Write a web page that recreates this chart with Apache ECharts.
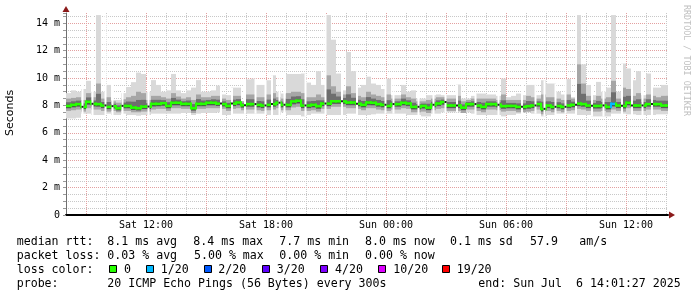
<!DOCTYPE html>
<html><head><meta charset="utf-8">
<script src="https://cdn.jsdelivr.net/npm/echarts@6/dist/echarts.min.js"></script>
<style>html,body{margin:0;padding:0;background:#fff}#c{width:697px;height:297px}</style>
</head><body><div id="c"></div>
<script>
// ---- data (time in hours since Sat 00:00, values in ms) ----
const startHour = 8;        // Sat 08:00
const stepHours = 0.25;     // one column = 15 min
const median = [7.97,8.05,8.1,7.9,8.27,8.12,8.1,8.0,7.9,7.95,
 7.8,7.97,7.97,7.85,7.8,7.92,7.92,8.12,8.12,8.17,
 7.97,8.2,8.2,8.12,8.12,7.8,8.12,8.12,8.2,8.2,
 8.14,8.1,7.97,8.14,8.22,8.02,8.1,8.1,8.05,8.0,
 8.05,8.1,8.2,8.05,8.05,8.3,8.35,8.0,8.0,8.05,
 7.95,8.14,8.14,8.31,8.31,8.3,8.22,8.22,8.12,8.05,
 8.22,8.2,8.1,8.05,7.97,8.1,8.1,8.2,8.15,7.9,
 7.9,7.97,7.85,8.05,8.15,8.25,8.0,8.0,8.0,7.85,
 8.1,8.1,8.0,7.9,8.1,8.1,8.05,7.95,7.97,7.97,
 7.9,7.9,7.95,8.0,8.1,7.75,8.0,7.9,7.97,7.9,
 8.0,8.05,8.14,8.1,8.0,7.97,7.97,8.0,7.9,8.12,
 8.0,7.97,8.2,8.0,8.0,8.0,8.1,8.1,8.1,8.0,8.0];
const hi = [8.9,9.1,9.0,9.2,9.8,9.0,14.6,9.0,9.5,8.4,
 8.4,8.9,9.35,9.7,10.4,10.3,9.0,9.85,9.5,9.0,
 9.1,10.3,9.1,8.9,9.1,9.3,9.85,9.0,9.0,9.1,
 9.45,8.8,8.75,9.3,9.3,8.3,9.9,9.96,9.5,9.5,
 9.84,10.2,9.0,8.87,10.3,10.3,10.3,10.33,9.67,9.5,
 10.5,9.5,14.6,12.8,10.33,9.1,11.9,10.5,9.3,9.5,
 10.1,9.6,9.5,9.2,9.96,8.75,8.75,9.5,9.0,9.1,
 8.5,8.5,8.75,8.75,8.8,8.75,8.75,8.75,9.53,8.5,
 8.5,8.7,8.87,8.87,8.8,8.8,8.7,9.96,8.6,8.7,
 8.87,8.75,9.5,9.5,8.75,9.84,9.6,9.6,9.0,8.8,
 9.92,8.6,14.6,11.0,9.5,8.75,9.72,9.0,9.3,14.6,
 9.0,11.06,10.7,9.84,10.5,8.75,10.33,9.3,9.3,9.5,9.5];
const up = [8.5,8.55,8.6,8.4,8.9,8.6,9.6,8.5,8.6,8.3,
 8.2,8.45,8.6,8.7,9.0,8.9,8.4,8.7,8.7,8.6,
 8.5,8.9,8.65,8.5,8.6,8.4,8.8,8.6,8.6,8.7,
 8.7,8.5,8.4,8.7,8.7,8.3,8.8,8.8,8.6,8.6,
 8.8,8.9,8.6,8.5,8.9,9.0,9.0,8.9,8.6,8.6,
 8.8,8.6,10.2,9.4,9.0,8.8,9.4,8.9,8.7,8.6,
 9.0,8.8,8.7,8.6,8.8,8.5,8.5,8.8,8.6,8.5,
 8.3,8.3,8.4,8.5,8.6,8.6,8.5,8.5,8.7,8.3,
 8.4,8.5,8.5,8.5,8.5,8.5,8.4,8.8,8.4,8.4,
 8.4,8.4,8.7,8.6,8.5,8.8,8.6,8.6,8.5,8.4,
 8.8,8.5,11.0,9.6,8.7,8.4,8.7,8.5,8.6,9.8,
 8.5,9.3,9.2,8.7,8.9,8.5,8.8,8.7,8.6,8.7,8.7];
const dn = [7.6,7.65,7.7,7.55,7.8,7.7,7.7,7.6,7.55,7.6,
 7.5,7.6,7.6,7.5,7.5,7.55,7.55,7.7,7.75,7.75,
 7.6,7.8,7.8,7.75,7.75,7.45,7.75,7.75,7.8,7.8,
 7.8,7.75,7.6,7.75,7.8,7.65,7.7,7.7,7.65,7.6,
 7.65,7.7,7.8,7.65,7.65,7.85,7.9,7.6,7.6,7.65,
 7.55,7.75,7.75,7.9,7.9,7.9,7.8,7.8,7.75,7.65,
 7.8,7.8,7.7,7.65,7.6,7.7,7.7,7.8,7.75,7.5,
 7.5,7.55,7.45,7.65,7.75,7.8,7.6,7.6,7.6,7.45,
 7.7,7.7,7.6,7.5,7.7,7.7,7.65,7.55,7.6,7.6,
 7.5,7.5,7.55,7.6,7.7,7.35,7.6,7.5,7.6,7.5,
 7.6,7.65,7.75,7.7,7.6,7.55,7.55,7.6,7.5,7.7,
 7.6,7.55,7.8,7.6,7.6,7.6,7.7,7.7,7.7,7.6,7.6];
const lo = [7.05,7.05,7.1,7.4,7.4,7.3,7.3,7.3,7.4,7.3,
 7.3,7.4,7.3,7.3,7.25,7.3,7.3,7.4,7.4,7.4,
 7.4,7.4,7.4,7.45,7.45,7.3,7.4,7.45,7.45,7.45,
 7.5,7.3,7.3,7.4,7.4,7.4,7.4,7.4,7.4,7.4,
 7.3,7.3,7.3,7.5,7.3,7.3,7.3,7.2,7.3,7.4,
 7.4,7.4,7.3,7.3,7.3,7.3,7.4,7.4,7.3,7.3,
 7.3,7.35,7.4,7.4,7.4,7.4,7.4,7.4,7.3,7.3,
 7.3,7.2,7.2,7.4,7.4,7.5,7.5,7.5,7.5,7.5,
 7.5,7.4,7.3,7.3,7.3,7.3,7.3,7.2,7.3,7.3,
 7.4,7.5,7.5,7.4,7.4,7.2,7.3,7.3,7.4,7.4,
 7.4,7.4,7.3,7.3,7.3,7.2,7.2,7.2,7.2,7.4,
 7.4,7.4,7.35,7.35,7.3,7.3,7.3,7.3,7.35,7.35,7.35];
const loss = [0,0,0,0,0,0,0,0,0,0, 0,0,0,0,0,0,0,0,0,0, 0,0,0,0,0,0,0,0,0,0,
 0,0,0,0,0,0,0,0,0,0, 0,0,0,0,0,0,0,0,0,0, 0,0,0,0,0,0,0,0,0,0,
 0,0,0,0,0,0,0,0,0,0, 0,0,0,0,0,0,0,0,0,0, 0,0,0,0,0,0,0,0,0,0,
 0,0,0,0,0,0,0,0,0,0, 0,0,0,0,0,0,0,0,0,1, 0,0,0,0,0,0,0,0,0,0,0];
// times (hours) of missing 5-minute samples
const gapTimes = [8.775,9.275,9.925,10.275,10.775,12.075,15.7,16.25,16.9,17.425,17.925,18.25,18.625,18.875,
 19.925,20.925,21.75,22.5,23.925,24.325,25.575,26.325,26.925,27.5,28.425,29.575,30.75,31.425,31.875,
 32.425,32.925,33.45,34.25,34.825,35.75,36.25,36.775,37.25];
const gapHours = 0.1;
const xTickLabels = {12:'Sat 12:00', 18:'Sat 18:00', 24:'Sun 00:00', 30:'Sun 06:00', 36:'Sun 12:00'};
const lossLegend = ['0','1/20','2/20','3/20','4/20','10/20','19/20'];
const lossColors = ['#26ff00','#00b8ff','#0059ff','#5e00ff','#7e00ff','#dd00ff','#ff0000'];
const lossSteps = [0,1,2,3,4,10,19];
const legendLine1 = [['median rtt:',16.7],['8.1 ms avg',107.3],['8.4 ms max',193.3],['7.7 ms min',279.3],['8.0 ms now',365],['0.1 ms sd',450],['57.9',530],['am/s',579.3]];
const legendLine2 = [['packet loss:',16.7],['0.03 % avg',107.3],['5.00 % max',194],['0.00 % min',279.3],['0.00 % now',365]];
const legendLine4 = [['probe:',16.7],['20 ICMP Echo Pings (56 Bytes) every 300s',107.3],['end: Sun Jul  6 14:01:27 2025',478.3]];
const legendX = [[109,124],[146,160.7],[204,218.3],[261.7,276.7],[320,335],[378.3,393.3],[441.7,456.7]];

// ---- chart ----
const MONO = '"DejaVu Sans Mono", monospace';
const chart = echarts.init(document.getElementById('c'), null, {renderer:'canvas'});
function lossColor(n){ let c = lossColors[0]; for (let k=0;k<lossSteps.length;k++) if (n>=lossSteps[k]) c = lossColors[k]; return c; }
const rows = median.map((m,i)=>[startHour+i*stepHours, lo[i], dn[i], m, up[i], hi[i], loss[i]]);
function colIndex(t){ return Math.max(0, Math.min(median.length-1, Math.floor((t-startHour)/stepHours))); }
const gapRows = gapTimes.map(t=>{ const c = colIndex(t); return [t, Math.min(lo[c], lo[Math.max(0,c-1)], lo[Math.min(median.length-1,c+1)]), median[c], Math.max(hi[c], hi[Math.max(0,c-1)], hi[Math.min(median.length-1,c+1)])]; });

function clipR(r, cs){ return echarts.graphic.clipRectByRect(r, {x:cs.x,y:cs.y,width:cs.width,height:cs.height}); }
function band(api, t, w, a, b, color, cs){
  const x0 = api.coord([t, 0])[0], x1 = api.coord([t+w, 0])[0];
  const ya = api.coord([t, a])[1], yb = api.coord([t, b])[1];
  const shape = clipR({x:x0, y:Math.min(ya,yb), width:x1-x0, height:Math.abs(ya-yb)}, cs);
  return shape ? {type:'rect', shape, style:{fill:color}} : null;
}
const smoke = {
  type:'custom', z:5, silent:true, data: rows, encode:{x:0, y:[1,5]},
  renderItem(params, api){
    const t = api.value(0), l=api.value(1), d=api.value(2), m=api.value(3), u=api.value(4), h=api.value(5);
    const cs = params.coordSys;
    const ch = [
      band(api,t,stepHours,l,h,'#d9d9d9',cs),
      band(api,t,stepHours,d,u,'#a6a6a6',cs),
      band(api,t,stepHours,(d+m)/2,(u+m)/2,'#6e6e6e',cs),
      band(api,t,stepHours,m-0.15,m+0.08,'#444444',cs)
    ].filter(Boolean);
    return {type:'group', children: ch};
  }
};
const medLine = {
  type:'custom', z:6, silent:true, data: rows, encode:{x:0, y:3},
  renderItem(params, api){
    const i = params.dataIndex;
    const t = api.value(0), m = api.value(3), n = api.value(6);
    const cs = params.coordSys;
    const x0 = api.coord([t,0])[0], x1 = api.coord([t+stepHours,0])[0];
    const y = api.coord([t,m])[1];
    const col = lossColor(n);
    const ch = [];
    const r = clipR({x:x0, y:y-1.2, width:x1-x0, height:2.6}, cs);
    if (r) ch.push({type:'rect', shape:r, style:{fill:col}});
    if (i>0){
      const yp = api.coord([t, median[i-1]])[1];
      ch.push({type:'rect', shape:{x:x0-1, y:Math.min(y,yp)-1.2, width:2, height:Math.abs(y-yp)+2.6}, style:{fill:col}});
    }
    return {type:'group', children: ch};
  }
};
const gaps = {
  type:'custom', z:7, silent:true, data: gapRows, encode:{x:0, y:[1,3]},
  renderItem(params, api){
    const t = api.value(0), l = api.value(1), m = api.value(2), h = api.value(3);
    const cs = params.coordSys;
    const x0 = api.coord([t,0])[0], x1 = api.coord([t+gapHours,0])[0];
    const yh = api.coord([t,h])[1], yl = api.coord([t,l])[1], ym = api.coord([t,m])[1];
    const ch = [];
    const r = clipR({x:x0, y:yh, width:x1-x0, height:yl-yh}, cs);
    if (r) ch.push({type:'rect', shape:r, style:{fill:'#ffffff'}});
    ch.push({type:'rect', shape:{x:x0, y:ym-1, width:x1-x0, height:2}, style:{fill:'#222222'}});
    return {type:'group', children: ch};
  }
};

const graphics = [];
graphics.push({type:'text', x:10, y:113, rotation:Math.PI/2, style:{text:'Seconds', font:'11px "DejaVu Sans", sans-serif', fill:'#000', textAlign:'center', textVerticalAlign:'middle', verticalAlign:'middle'}});
graphics.push({type:'text', x:686, y:5, rotation:-Math.PI/2, style:{text:'RRDTOOL / TOBI OETIKER', font:'8.4px '+MONO, fill:'#c0c0c0', textAlign:'left', textVerticalAlign:'middle', verticalAlign:'middle'}});
function addLine(arr, y){ arr.forEach(([s,x])=>graphics.push({type:'text', x, y, style:{text:s, font:'11.6px '+MONO, fill:'#000', textAlign:'left', textVerticalAlign:'middle', verticalAlign:'middle'}})); }
addLine(legendLine1, 241.5);
addLine(legendLine2, 255.5);
addLine([['loss color:',16.7]], 269.5);
addLine(legendLine4, 283.5);
lossLegend.forEach((lab,k)=>{
  const [sx, tx] = legendX[k];
  graphics.push({type:'rect', shape:{x:Math.round(sx)+0.5, y:265.5, width:7, height:7}, style:{fill:lossColors[k], stroke:'#000', lineWidth:1}});
  graphics.push({type:'text', x:tx, y:269.5, style:{text:lab, font:'11.6px '+MONO, fill:'#000', textAlign:'left', textVerticalAlign:'middle', verticalAlign:'middle'}});
});

const GRID = {left:66, top:13, width:602, height:202};
const gridDots = [1,1];
chart.setOption({
  animation:false,
  backgroundColor:'#fff',
  grid: GRID,
  xAxis:[{
    type:'value', min:startHour, max:38.1, interval:1, z:1,
    axisLine:{show:true, onZero:false, lineStyle:{color:'#000', width:2}},
    axisTick:{show:false},
    axisLabel:{show:true, margin:5, fontFamily:MONO, fontSize:10, color:'#000',
      formatter:v=> xTickLabels[Math.round(v)] && Math.abs(v-Math.round(v))<1e-6 ? xTickLabels[Math.round(v)] : ''},
    splitLine:{show:true, showMaxLine:false, lineStyle:{type:gridDots, width:1, color:['#c8c8c8','#e3a0a0','#c8c8c8']}}
  },{
    type:'value', min:startHour, max:38.1, position:'bottom', z:0,
    axisLine:{show:true, onZero:false, symbol:['none','triangle'], symbolSize:[7,6], symbolOffset:[0,4], lineStyle:{color:'#8b1a1a', width:0}},
    axisTick:{show:false}, axisLabel:{show:false}, splitLine:{show:false}
  }],
  yAxis:[{
    type:'value', min:0, max:14.75, interval:0.5, z:1,
    axisLine:{show:true, lineStyle:{color:'#707070', width:1}},
    axisTick:{show:true, length:3, lineStyle:{color:'#999'}},
    axisLabel:{show:true, margin:6, fontFamily:MONO, fontSize:10, color:'#000',
      formatter:v=>{ const r=Math.round(v); if (Math.abs(v-r)>1e-6 || r%2!==0 || r>14) return ''; return r===0?'0':r+' m'; }},
    splitLine:{show:true, showMaxLine:false, lineStyle:{type:gridDots, width:1, color:['#e3a0a0','#c8c8c8','#c8c8c8','#c8c8c8']}}
  },{
    type:'value', min:0, max:14.75, position:'left', z:0,
    axisLine:{show:true, symbol:['none','triangle'], symbolSize:[7,6], symbolOffset:[0,4], lineStyle:{color:'#8b1a1a', width:0}},
    axisTick:{show:false}, axisLabel:{show:false}, splitLine:{show:false}
  }],
  series:[smoke, medLine, gaps],
  graphic: graphics
});
</script></body></html>
